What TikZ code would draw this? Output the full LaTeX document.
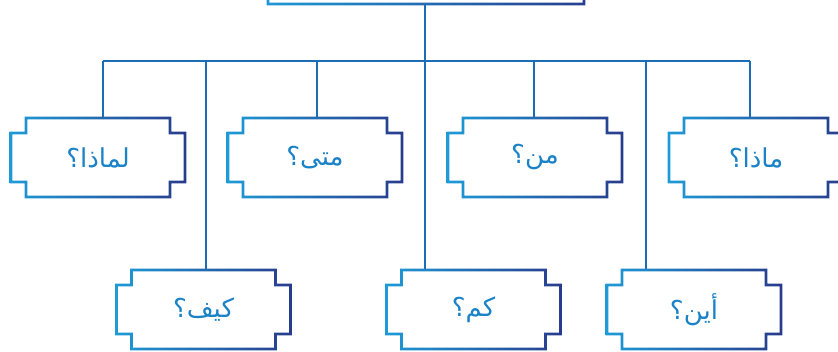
\documentclass[tikz,border=0pt]{standalone}
\usepackage{fontspec}
\newfontfamily\arabicfont[Script=Arabic]{DejaVu Sans}
\TeXXeTstate=1
\definecolor{qlight}{HTML}{1E9BD7}
\definecolor{qdark}{HTML}{283B8C}
\definecolor{qline}{HTML}{1B6DB5}
\definecolor{qtext}{HTML}{1A82C6}
% notched outline path around node #1, half width #2, half height #3
\newcommand\qshape[3]{([shift={({-(#2)},{-(#3)})}]#1.center) -- ++({2*(#2)},0) -- ++(0,15) -- ++(15,0) -- ++(0,{2*(#3)-30}) -- ++(-15,0) -- ++(0,15) -- ++({-2*(#2)},0) -- ++(0,-15) -- ++(-15,0) -- ++(0,{30-2*(#3)}) -- ++(15,0) -- cycle}
\newcommand\qframe[3]{\shade[left color=qlight,right color=qdark,even odd rule] \qshape{#1}{#2+1.3}{#3+1.3} \qshape{#1}{#2-1.3}{#3-1.3};}
\tikzset{
  qbox/.style={minimum width=144pt,minimum height=79pt,inner sep=0pt,text=qtext,font=\arabicfont\fontsize{26}{30}\selectfont},
  conn/.style={draw=qline,line width=2.2pt}
}
\begin{document}
\begin{tikzpicture}[x=1pt,y=-1pt]
\useasboundingbox (0,0) rectangle (838,351);
\clip (0,0) rectangle (838,351);
% top box
\node[minimum width=316pt,minimum height=80pt,inner sep=0pt] (top) at (426,-36) {};
% upper row
\node[qbox] (b1) at (98,157.5) {\beginR لماذا؟\endR};
\node[qbox] (b2) at (315,157.5) {\beginR متى؟\endR};
\node[qbox] (b3) at (535,157.5) {\beginR من؟\endR};
\node[qbox] (b4) at (756,157.5) {\beginR ماذا؟\endR};
% lower row
\node[qbox] (b5) at (203.5,309.5) {\beginR كيف؟\endR};
\node[qbox] (b6) at (473.5,309.5) {\beginR كم؟\endR};
\node[qbox] (b7) at (694,309.5) {\beginR أين؟\endR};
% junctions on the bus
\coordinate (j1) at (103,61);
\coordinate (j2) at (317,61);
\coordinate (j3) at (534,61);
\coordinate (j4) at (750,61);
\coordinate (j5) at (206,61);
\coordinate (j6) at (425,61);
\coordinate (j7) at (646,61);
% connectors
\draw[conn] (j1) -- (j4);
\draw[conn] (j6 |- top.south) -- (j6 |- b6.north);
\draw[conn] (j1) -- (j1 |- b1.north);
\draw[conn] (j2) -- (j2 |- b2.north);
\draw[conn] (j3) -- (j3 |- b3.north);
\draw[conn] (j4) -- (j4 |- b4.north);
\draw[conn] (j5) -- (j5 |- b5.north);
\draw[conn] (j7) -- (j7 |- b7.north);
% frames
\qframe{top}{158}{40}
\qframe{b1}{72}{39.5}
\qframe{b2}{72}{39.5}
\qframe{b3}{72}{39.5}
\qframe{b4}{72}{39.5}
\qframe{b5}{72}{39.5}
\qframe{b6}{72}{39.5}
\qframe{b7}{72}{39.5}
\end{tikzpicture}
\end{document}
